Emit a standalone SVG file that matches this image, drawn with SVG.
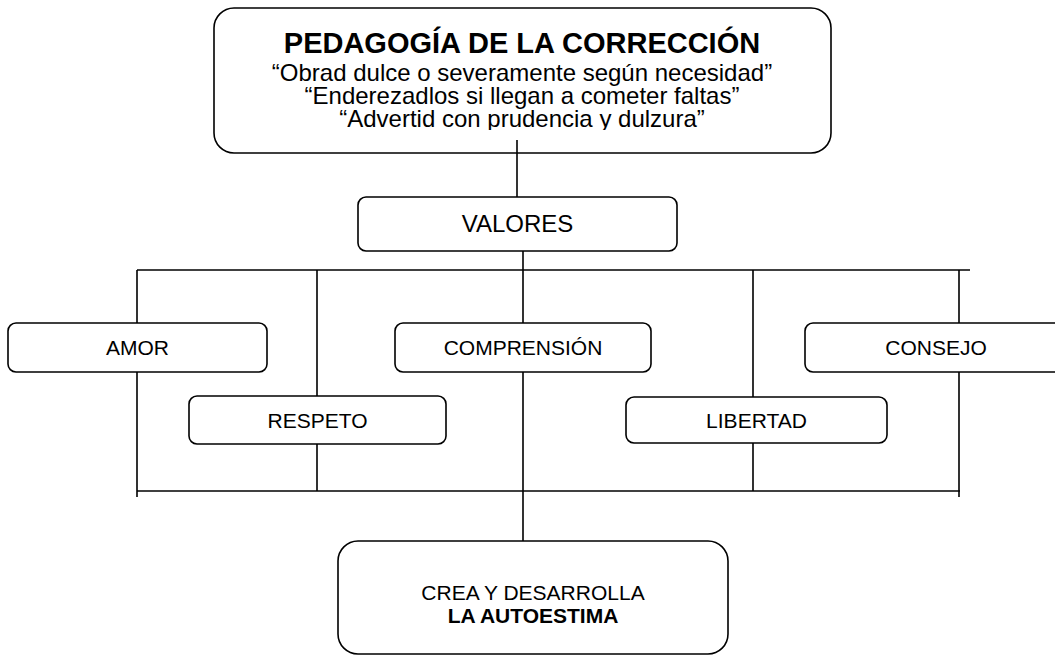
<svg xmlns="http://www.w3.org/2000/svg" width="1055" height="655" viewBox="0 0 1055 655">
<defs>
<style>
.box{fill:#fff;stroke:#000;stroke-width:1.6}
.ln{fill:none;stroke:#000;stroke-width:1.6}
.t{font-family:"Liberation Sans",Arial,sans-serif;fill:#000;text-anchor:middle}
.r21{font-size:21px}
.r24{font-size:24px}
.b{font-weight:bold}
</style>
<clipPath id="clipLine4"><rect x="214" y="100" width="617" height="30"/></clipPath>
</defs>
<rect width="1055" height="655" fill="#fff"/>
<g id="top">
<rect class="box" x="214" y="8" width="617" height="145" rx="20"/>
<text class="t b" x="522" y="53" font-size="29">PEDAGOGÍA DE LA CORRECCIÓN</text>
<text class="t r24" x="522" y="81">“Obrad dulce o severamente según necesidad”</text>
<text class="t r24" x="522" y="104">“Enderezadlos si llegan a cometer faltas”</text>
<text class="t r24" x="522" y="127" clip-path="url(#clipLine4)">“Advertid con prudencia y dulzura”</text>
</g>
<g id="connectors">
<path class="ln" d="M517 140V197"/>
<path class="ln" d="M523 251V270"/>
<path class="ln" d="M137 270H970"/>
<path class="ln" d="M137 270V323M137 372V497"/>
<path class="ln" d="M317 270V396M317 444V491"/>
<path class="ln" d="M523 270V323M523 372V541"/>
<path class="ln" d="M753 270V397M753 443V491"/>
<path class="ln" d="M959 270V323M959 372V497"/>
<path class="ln" d="M137 491H960"/>
</g>
<g id="valores">
<rect class="box" x="358" y="197" width="319" height="54" rx="8"/>
<text class="t r24" x="517.5" y="232">VALORES</text>
</g>
<g id="amor">
<rect class="box" x="8" y="323" width="259" height="49" rx="8"/>
<text class="t r21" x="137.5" y="354.5">AMOR</text>
</g>
<g id="comprension">
<rect class="box" x="395" y="323" width="256" height="49" rx="8"/>
<text class="t r21" x="523" y="355">COMPRENSIÓN</text>
</g>
<g id="consejo">
<rect class="box" x="805" y="323" width="262" height="49" rx="8"/>
<text class="t r21" x="936" y="354.5">CONSEJO</text>
</g>
<g id="respeto">
<rect class="box" x="189" y="396" width="257" height="48" rx="8"/>
<text class="t r21" x="317.5" y="427.5">RESPETO</text>
</g>
<g id="libertad">
<rect class="box" x="626" y="397" width="261" height="46" rx="8"/>
<text class="t r21" x="756.5" y="427.5">LIBERTAD</text>
</g>
<g id="autoestima">
<rect class="box" x="338" y="541" width="390" height="113" rx="20"/>
<text class="t r21" x="533" y="600">CREA Y DESARROLLA</text>
<text class="t r21 b" x="533" y="623">LA AUTOESTIMA</text>
</g>
</svg>
